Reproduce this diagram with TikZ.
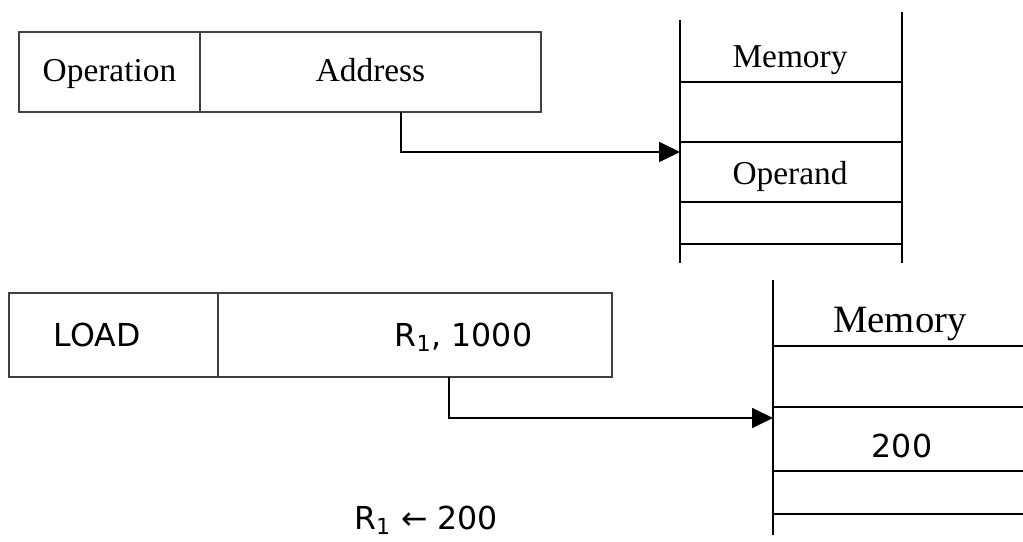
\documentclass[tikz,border=0pt]{standalone}
\usepackage{fontspec}
\setmainfont{Liberation Serif}
\newfontfamily\vfont{DejaVu Sans}
\usetikzlibrary{positioning,arrows.meta}

\begin{document}
\begin{tikzpicture}[cell/.style={rectangle, draw=black!75, line width=1.3pt, outer sep=0pt, inner sep=0pt, minimum height=1.6cm, text height=0.5cm, text depth=0.1cm}, every path/.style={line width=1pt}, ptr/.style={-{Triangle[length=0.42cm,width=0.4cm]}}, serif/.style={font=\fontsize{19}{22}\selectfont}, bigserif/.style={font=\fontsize{22}{26}\selectfont}, sans/.style={font=\vfont\fontsize{18}{21}\selectfont}]
				\useasboundingbox (0,0) rectangle (20.46,10.82);
				
				\node[cell, serif, minimum width=3.62cm] (op) at (2.19,9.38){Operation};
				\node[cell, serif, minimum width=6.82cm, right=0cm of op] (addr){Address};
				
				\draw (13.6,10.42) -- (13.6,5.56);
				\draw (18.04,10.58) -- (18.04,5.56);
				\foreach \y in {9.18,7.98,6.78,5.94}
					\draw (13.6,\y) -- (18.04,\y);
				\node[serif, anchor=base] (mem1) at (15.8,9.46){Memory};
				\node[serif, anchor=base] (opd) at (15.8,7.12){Operand};
				
				\coordinate (out1) at ([xshift=0.61cm]addr.south);
				\coordinate (in1) at (13.6,7.78);
				\draw[ptr] (out1) |- (in1);
				
				\node[cell, minimum width=4.18cm, minimum height=1.68cm] (load) at (2.27,4.12){};
				\node[cell, minimum width=7.88cm, minimum height=1.68cm, right=0cm of load] (reg){};
				\node[sans, anchor=base] (ldtxt) at (1.94,3.9){LOAD};
				\node[sans, anchor=base] (regtxt) at (9.27,3.9){R\textsubscript{1}, 1000};
				
				\draw (15.46,5.22) -- (15.46,0.12);
				\foreach \y in {3.9,2.68,1.4,0.54}
					\draw (15.46,\y) -- (20.46,\y);
				\node[bigserif, anchor=base] (mem2) at (18.0,4.16){Memory};
				\node[sans, anchor=base] (val) at (18.04,1.68){200};
				
				\coordinate (out2) at ([xshift=0.68cm]reg.south);
				\coordinate (in2) at (15.46,2.46);
				\draw[ptr] (out2) |- (in2);
				
				\node[sans, anchor=base] (res) at (8.52,0.24){R\textsubscript{1} ← 200};
				\end{tikzpicture}
\end{document}
